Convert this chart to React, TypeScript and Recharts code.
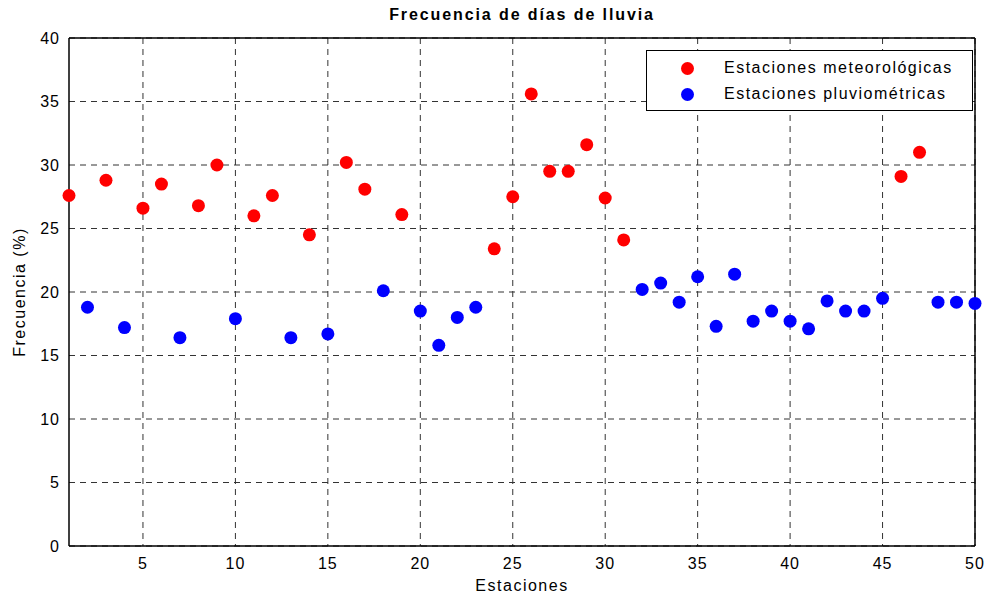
import {
  ScatterChart,
  Scatter,
  XAxis,
  YAxis,
  CartesianGrid,
  Label
} from 'recharts'

const metStations = [1, 3, 5, 6, 8, 9, 11, 12, 14, 16, 17, 19, 24, 25, 26, 27, 28, 29, 30, 31, 46, 47]
const metValues = [27.6, 28.8, 26.6, 28.5, 26.8, 30.0, 26.0, 27.6, 24.5, 30.2, 28.1, 26.1, 23.4, 27.5, 35.6, 29.5, 29.5, 31.6, 27.4, 24.1, 29.1, 31.0]

const pluvStations = [2, 4, 7, 10, 13, 15, 18, 20, 21, 22, 23, 32, 33, 34, 35, 36, 37, 38, 39, 40, 41, 42, 43, 44, 45, 48, 49, 50]
const pluvValues = [18.8, 17.2, 16.4, 17.9, 16.4, 16.7, 20.1, 18.5, 15.8, 18.0, 18.8, 20.2, 20.7, 19.2, 21.2, 17.3, 21.4, 17.7, 18.5, 17.7, 17.1, 19.3, 18.5, 18.5, 19.5, 19.2, 19.2, 19.1]

const xTicks = [5, 10, 15, 20, 25, 30, 35, 40, 45, 50]
const yTicks = [0, 5, 10, 15, 20, 25, 30, 35, 40]

const metData = metStations.map((s, i) => ({ x: s, y: metValues[i] }))
const pluvData = pluvStations.map((s, i) => ({ x: s, y: pluvValues[i] }))

const font = 'Liberation Sans, Arial, sans-serif'
const textStyle = { fill: '#000', fontSize: 16, fontFamily: font, letterSpacing: 1.5 }

const Dot = (props: any) => {
  const { cx, cy, fill } = props
  return <circle cx={cx} cy={cy} r={6.5} fill={fill} />
}

// legend drawn as an overlay so it doesn't eat plot space
const LegendBox = () => (
  <div
    style={{
      position: 'absolute',
      left: 646,
      top: 50,
      width: 327,
      height: 61,
      border: '1px solid #000',
      background: '#fff',
      fontFamily: font,
      fontSize: 16,
      letterSpacing: 1.5,
      color: '#000',
      boxSizing: 'border-box'
    }}
  >
    {[
      { c: '#ff0000', t: 'Estaciones meteorológicas' },
      { c: '#0000ff', t: 'Estaciones pluviométricas' }
    ].map((e, i) => (
      <div key={i} style={{ display: 'flex', alignItems: 'center', height: 26, marginTop: i === 0 ? 4 : 0 }}>
        <span
          style={{
            display: 'inline-block',
            width: 13,
            height: 13,
            borderRadius: '50%',
            background: e.c,
            marginLeft: 34,
            marginRight: 30
          }}
        />
        <span>{e.t}</span>
      </div>
    ))}
  </div>
)

export default function App() {
  return (
    <div style={{ position: 'absolute', left: 0, top: 0, width: 991, height: 601, background: '#fff' }}>
      <div
        style={{
          position: 'absolute',
          left: 69,
          width: 906,
          top: 6,
          textAlign: 'center',
          fontFamily: font,
          fontWeight: 'bold',
          fontSize: 16,
          letterSpacing: 1.9
        }}
      >
        Frecuencia de días de lluvia
      </div>
      <ScatterChart width={991} height={601} margin={{ top: 37, right: 0, bottom: 25, left: 0 }}>
        <CartesianGrid strokeDasharray="6 5" stroke="#333" horizontalValues={yTicks} verticalValues={xTicks} />
        <XAxis
          xAxisId={0}
          type="number"
          dataKey="x"
          domain={[1, 50]}
          ticks={xTicks}
          interval={0}
          height={30}
          tickLine={false}
          axisLine={{ stroke: '#000', strokeWidth: 1.5 }}
          tick={{ ...textStyle, letterSpacing: 1, dy: 4 }}
        >
          <Label value="Estaciones" position="bottom" offset={4} style={textStyle} />
        </XAxis>
        <XAxis
          xAxisId="top"
          orientation="top"
          type="number"
          domain={[1, 50]}
          height={1}
          tick={false}
          tickLine={false}
          axisLine={{ stroke: '#000', strokeWidth: 1.5 }}
        />
        <YAxis
          yAxisId={0}
          type="number"
          dataKey="y"
          domain={[0, 40]}
          ticks={yTicks}
          interval={0}
          width={69}
          tickLine={false}
          axisLine={{ stroke: '#000', strokeWidth: 1.5 }}
          tick={{ ...textStyle, letterSpacing: 1, dx: -1 }}
        >
          <Label
            value="Frecuencia (%)"
            angle={-90}
            position="insideLeft"
            offset={19}
            style={{ ...textStyle, textAnchor: 'middle' }}
          />
        </YAxis>
        <YAxis
          yAxisId="right"
          orientation="right"
          type="number"
          domain={[0, 40]}
          width={16}
          tick={false}
          tickLine={false}
          axisLine={{ stroke: '#000', strokeWidth: 1.5 }}
        />
        <Scatter
          name="Estaciones meteorológicas"
          data={metData}
          fill="#ff0000"
          shape={<Dot />}
          isAnimationActive={false}
        />
        <Scatter
          name="Estaciones pluviométricas"
          data={pluvData}
          fill="#0000ff"
          shape={<Dot />}
          isAnimationActive={false}
        />
      </ScatterChart>
      <LegendBox />
    </div>
  )
}
